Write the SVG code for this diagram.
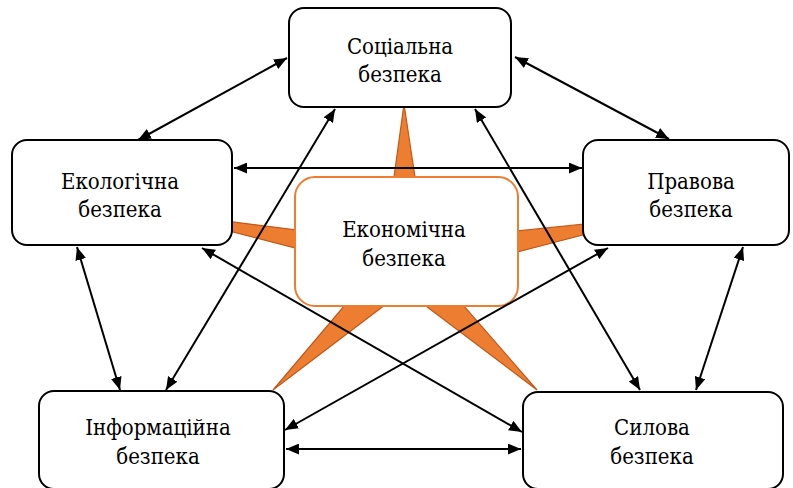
<svg xmlns="http://www.w3.org/2000/svg" width="793" height="488" viewBox="0 0 793 488">
<defs>
<style>
.node{fill:#fff;stroke:#000;stroke-width:2}
.center{fill:#fff;stroke:#ED7D31;stroke-width:2}
.spike{fill:#ED7D31;stroke:#C0591A;stroke-width:1.2;stroke-linejoin:miter}
.t{font-family:'DejaVu Serif Condensed','DejaVu Serif',serif;font-stretch:condensed;font-size:22px;fill:#000;text-anchor:middle}
.c{fill:none;stroke:#000;stroke-width:2}
</style>
<marker id="ah" viewBox="0 0 12 10" refX="12" refY="5" markerWidth="13" markerHeight="11" markerUnits="userSpaceOnUse" orient="auto-start-reverse">
<path d="M0,0 L12,5 L0,10 Z" fill="#000"/>
</marker>
</defs>
<g id="star">
<polygon class="spike" points="404,104 384,250 426,250"/>
<polygon class="spike" points="155,212 400,243 400,275"/>
<polygon class="spike" points="652,217 410,242 410,280"/>
<polygon class="spike" points="273,390 383,260 444,260"/>
<polygon class="spike" points="537,390 424,260 365,260"/>
</g>
<g id="social">
<rect class="node" x="289" y="8" width="222" height="99" rx="15"/>
<text class="t" x="400" y="54">Соціальна</text>
<text class="t" x="400" y="82">безпека</text>
</g>
<g id="ecological">
<rect class="node" x="12" y="140" width="220" height="105" rx="15"/>
<text class="t" x="120" y="189">Екологічна</text>
<text class="t" x="120" y="217">безпека</text>
</g>
<g id="legal">
<rect class="node" x="583" y="140" width="206" height="105" rx="15"/>
<text class="t" x="691" y="189">Правова</text>
<text class="t" x="691" y="217">безпека</text>
</g>
<g id="economic">
<rect class="center" x="295" y="177" width="223" height="129" rx="20"/>
<text class="t" x="404" y="237">Економічна</text>
<text class="t" x="404" y="266">безпека</text>
</g>
<g id="information">
<rect class="node" x="39" y="391" width="245" height="98" rx="15"/>
<text class="t" x="158" y="435">Інформаційна</text>
<text class="t" x="158" y="464">безпека</text>
</g>
<g id="force">
<rect class="node" x="523" y="392" width="260" height="97" rx="15"/>
<text class="t" x="652" y="435">Силова</text>
<text class="t" x="652" y="464">безпека</text>
</g>
<g id="connectors">
<line class="c" x1="287" y1="58" x2="138" y2="140" marker-start="url(#ah)" marker-end="url(#ah)"/>
<line class="c" x1="515" y1="57" x2="669" y2="139" marker-start="url(#ah)" marker-end="url(#ah)"/>
<line class="c" x1="234" y1="168" x2="582" y2="168" marker-start="url(#ah)" marker-end="url(#ah)"/>
<line class="c" x1="77" y1="247" x2="120" y2="390" marker-start="url(#ah)" marker-end="url(#ah)"/>
<line class="c" x1="743" y1="247" x2="696" y2="390" marker-start="url(#ah)" marker-end="url(#ah)"/>
<line class="c" x1="286" y1="449" x2="521" y2="449" marker-start="url(#ah)" marker-end="url(#ah)"/>
<line class="c" x1="335" y1="109" x2="166" y2="390" marker-start="url(#ah)" marker-end="url(#ah)"/>
<line class="c" x1="475" y1="109" x2="640" y2="390" marker-start="url(#ah)" marker-end="url(#ah)"/>
<line class="c" x1="202" y1="248" x2="522" y2="432" marker-start="url(#ah)" marker-end="url(#ah)"/>
<line class="c" x1="608" y1="248" x2="285" y2="430" marker-start="url(#ah)" marker-end="url(#ah)"/>
</g>
</svg>
